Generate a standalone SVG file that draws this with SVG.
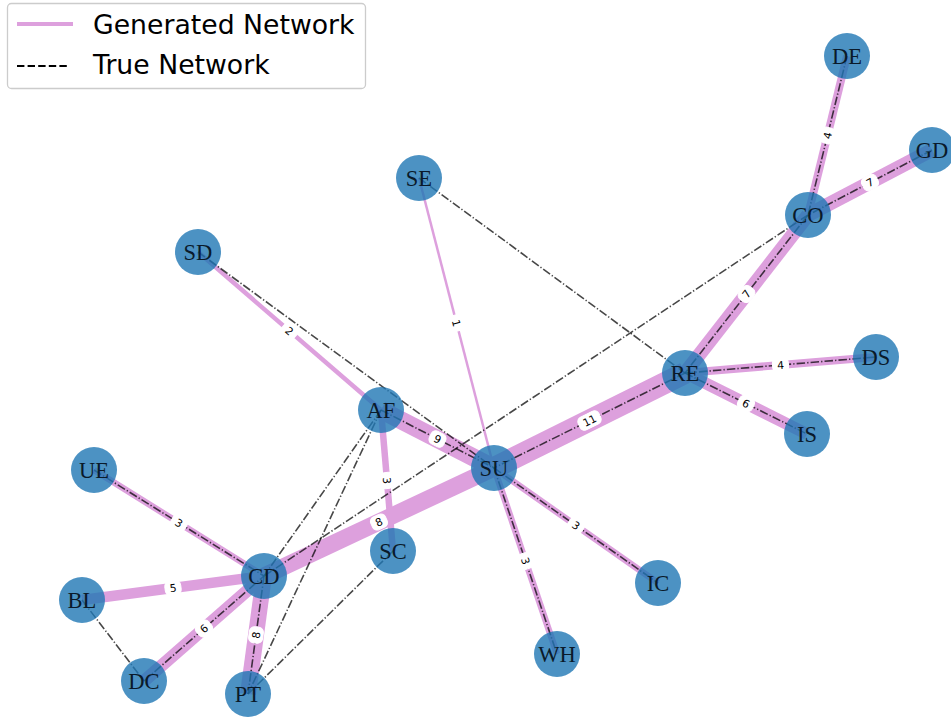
<svg xmlns="http://www.w3.org/2000/svg" width="951" height="717" viewBox="0 0 951 717">
<style>
.gen{stroke:#DDA0DD;stroke-linecap:butt;fill:none}
.tru{stroke:#000;stroke-opacity:0.72;stroke-width:1.6;stroke-dasharray:8.5 2.1 1.3 2.1;fill:none}
.node circle{fill:#1f77b4;fill-opacity:0.8}
.node text{font-family:"Liberation Serif","Times New Roman",serif;font-size:22.5px;fill:#0a1a2a;text-anchor:middle}
.lbl rect{fill:#fff;stroke:#fff}
.lbl text{font-family:"DejaVu Sans",sans-serif;font-size:10.7px;fill:#000;text-anchor:middle}
.leg{font-family:"DejaVu Sans",sans-serif;font-size:26.7px;fill:#000}
</style>
<rect width="951" height="717" fill="#fff"/>
<g id="connectors">
<g id="generated">
<line class="gen" x1="847" y1="56" x2="808" y2="215" stroke-width="8"/>
<line class="gen" x1="932" y1="150" x2="808" y2="215" stroke-width="14"/>
<line class="gen" x1="808" y1="215" x2="685" y2="373" stroke-width="14"/>
<line class="gen" x1="685" y1="373" x2="876" y2="357" stroke-width="8"/>
<line class="gen" x1="685" y1="373" x2="807" y2="434" stroke-width="12"/>
<line class="gen" x1="685" y1="373" x2="494" y2="468" stroke-width="22"/>
<line class="gen" x1="381" y1="410" x2="494" y2="468" stroke-width="18"/>
<line class="gen" x1="198" y1="252" x2="381" y2="410" stroke-width="4.5"/>
<line class="gen" x1="419" y1="178" x2="494" y2="468" stroke-width="2.5"/>
<line class="gen" x1="381" y1="410" x2="393" y2="551" stroke-width="6.5"/>
<line class="gen" x1="264" y1="576" x2="494" y2="468" stroke-width="17"/>
<line class="gen" x1="94" y1="470" x2="264" y2="576" stroke-width="6.5"/>
<line class="gen" x1="82" y1="600" x2="264" y2="576" stroke-width="10.5"/>
<line class="gen" x1="144" y1="681" x2="264" y2="576" stroke-width="12.5"/>
<line class="gen" x1="264" y1="576" x2="248" y2="694" stroke-width="16"/>
<line class="gen" x1="494" y1="468" x2="658" y2="583" stroke-width="6.5"/>
<line class="gen" x1="494" y1="468" x2="557" y2="654" stroke-width="6.5"/>
</g>
<g id="true">
<line class="tru" x1="847" y1="56" x2="808" y2="215"/>
<line class="tru" x1="932" y1="150" x2="808" y2="215"/>
<line class="tru" x1="808" y1="215" x2="685" y2="373"/>
<line class="tru" x1="685" y1="373" x2="876" y2="357"/>
<line class="tru" x1="685" y1="373" x2="807" y2="434"/>
<line class="tru" x1="685" y1="373" x2="494" y2="468"/>
<line class="tru" x1="419" y1="178" x2="685" y2="373"/>
<line class="tru" x1="808" y1="215" x2="264" y2="576"/>
<line class="tru" x1="198" y1="252" x2="494" y2="468"/>
<line class="tru" x1="381" y1="410" x2="494" y2="468"/>
<line class="tru" x1="494" y1="468" x2="658" y2="583"/>
<line class="tru" x1="494" y1="468" x2="557" y2="654"/>
<line class="tru" x1="381" y1="410" x2="264" y2="576"/>
<line class="tru" x1="381" y1="410" x2="248" y2="694"/>
<line class="tru" x1="393" y1="551" x2="248" y2="694"/>
<line class="tru" x1="94" y1="470" x2="264" y2="576"/>
<line class="tru" x1="82" y1="600" x2="144" y2="681"/>
<line class="tru" x1="144" y1="681" x2="264" y2="576"/>
<line class="tru" x1="264" y1="576" x2="248" y2="694"/>
</g>
</g>
<g id="nodes">
<g id="DE" class="node"><circle cx="847" cy="56" r="23"/><text x="847" y="64">DE</text></g>
<g id="GD" class="node"><circle cx="932" cy="150" r="23"/><text x="932" y="158">GD</text></g>
<g id="SE" class="node"><circle cx="419" cy="178" r="23"/><text x="419" y="186">SE</text></g>
<g id="CO" class="node"><circle cx="808" cy="215" r="23"/><text x="808" y="223">CO</text></g>
<g id="SD" class="node"><circle cx="198" cy="252" r="23"/><text x="198" y="260">SD</text></g>
<g id="RE" class="node"><circle cx="685" cy="373" r="23"/><text x="685" y="381">RE</text></g>
<g id="DS" class="node"><circle cx="876" cy="357" r="23"/><text x="876" y="365">DS</text></g>
<g id="AF" class="node"><circle cx="381" cy="410" r="23"/><text x="381" y="418">AF</text></g>
<g id="IS" class="node"><circle cx="807" cy="434" r="23"/><text x="807" y="442">IS</text></g>
<g id="UE" class="node"><circle cx="94" cy="470" r="23"/><text x="94" y="478">UE</text></g>
<g id="SU" class="node"><circle cx="494" cy="468" r="23"/><text x="494" y="476">SU</text></g>
<g id="SC" class="node"><circle cx="393" cy="551" r="23"/><text x="393" y="559">SC</text></g>
<g id="CD" class="node"><circle cx="264" cy="576" r="23"/><text x="264" y="584">CD</text></g>
<g id="IC" class="node"><circle cx="658" cy="583" r="23"/><text x="658" y="591">IC</text></g>
<g id="BL" class="node"><circle cx="82" cy="600" r="23"/><text x="82" y="608">BL</text></g>
<g id="WH" class="node"><circle cx="557" cy="654" r="23"/><text x="557" y="662">WH</text></g>
<g id="DC" class="node"><circle cx="144" cy="681" r="23"/><text x="144" y="689">DC</text></g>
<g id="PT" class="node"><circle cx="248" cy="694" r="23"/><text x="248" y="702">PT</text></g>
</g>
<g id="edge-labels">
<g class="lbl" transform="translate(827.5,135.5) rotate(-76.2)"><rect x="-8" y="-7" width="16" height="14" rx="5"/><text y="3.9">4</text></g>
<g class="lbl" transform="translate(870,182.5) rotate(-27.7)"><rect x="-8" y="-7" width="16" height="14" rx="5"/><text y="3.9">7</text></g>
<g class="lbl" transform="translate(746.5,294) rotate(-52.1)"><rect x="-8" y="-7" width="16" height="14" rx="5"/><text y="3.9">7</text></g>
<g class="lbl" transform="translate(780.5,365) rotate(-4.8)"><rect x="-8" y="-7" width="16" height="14" rx="5"/><text y="3.9">4</text></g>
<g class="lbl" transform="translate(746,403.5) rotate(26.6)"><rect x="-8" y="-7" width="16" height="14" rx="5"/><text y="3.9">6</text></g>
<g class="lbl" transform="translate(589.5,420.5) rotate(-26.4)"><rect x="-11.5" y="-7" width="23" height="14" rx="5"/><text y="3.9">11</text></g>
<g class="lbl" transform="translate(437.5,439) rotate(27.2)"><rect x="-8" y="-7" width="16" height="14" rx="5"/><text y="3.9">9</text></g>
<g class="lbl" transform="translate(289.5,331) rotate(40.8)"><rect x="-8" y="-7" width="16" height="14" rx="5"/><text y="3.9">2</text></g>
<g class="lbl" transform="translate(456.5,323) rotate(75.5)"><rect x="-8" y="-7" width="16" height="14" rx="5"/><text y="3.9">1</text></g>
<g class="lbl" transform="translate(387,480.5) rotate(85.1)"><rect x="-8" y="-7" width="16" height="14" rx="5"/><text y="3.9">3</text></g>
<g class="lbl" transform="translate(379,522) rotate(-25.2)"><rect x="-8" y="-7" width="16" height="14" rx="5"/><text y="3.9">8</text></g>
<g class="lbl" transform="translate(179,523) rotate(31.9)"><rect x="-8" y="-7" width="16" height="14" rx="5"/><text y="3.9">3</text></g>
<g class="lbl" transform="translate(173,588) rotate(-7.5)"><rect x="-8" y="-7" width="16" height="14" rx="5"/><text y="3.9">5</text></g>
<g class="lbl" transform="translate(204,628.5) rotate(-41.2)"><rect x="-8" y="-7" width="16" height="14" rx="5"/><text y="3.9">6</text></g>
<g class="lbl" transform="translate(256,635) rotate(-82.3)"><rect x="-8" y="-7" width="16" height="14" rx="5"/><text y="3.9">8</text></g>
<g class="lbl" transform="translate(576,525.5) rotate(35)"><rect x="-8" y="-7" width="16" height="14" rx="5"/><text y="3.9">3</text></g>
<g class="lbl" transform="translate(525.5,561) rotate(71.3)"><rect x="-8" y="-7" width="16" height="14" rx="5"/><text y="3.9">3</text></g>
</g>
<g id="legend">
<rect x="7.5" y="3.5" width="358" height="85" rx="4" fill="#fff" fill-opacity="0.8" stroke="#cccccc" stroke-width="1.3"/>
<line x1="17" y1="24" x2="73" y2="24" stroke="#DDA0DD" stroke-width="4"/>
<text class="leg" x="93" y="34">Generated Network</text>
<line x1="17" y1="66" x2="69.5" y2="66" stroke="#000" stroke-width="2" stroke-dasharray="7.4 3.2"/>
<text class="leg" x="93" y="74">True Network</text>
</g>
</svg>
